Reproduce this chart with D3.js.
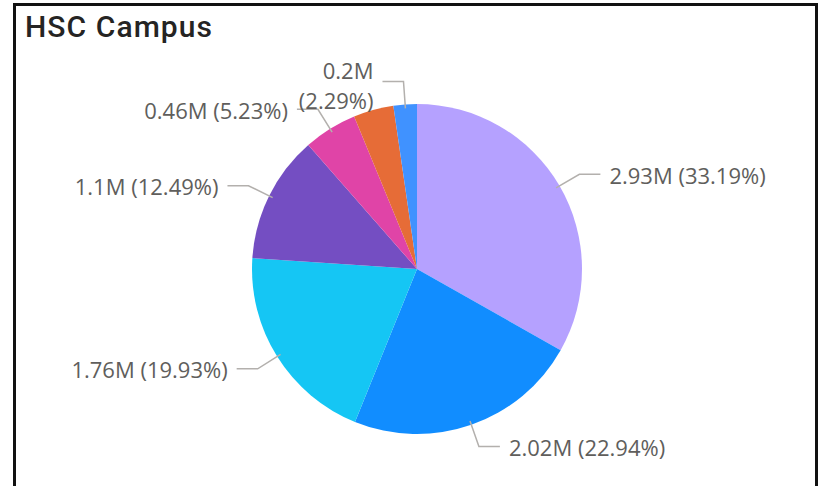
<!DOCTYPE html>
<html>
<head>
<meta charset="utf-8">
<script src="https://cdn.jsdelivr.net/npm/d3@7"></script>
<style>
  body { margin: 0; background: #fff; }
  #title { font-family: Roboto, "DejaVu Sans", sans-serif; font-size: 30px; font-weight: 500; fill: #252423; }
  .label { font-family: "Segoe UI", "Open Sans", sans-serif; font-size: 22px; fill: #605E5C; }
</style>
</head>
<body>
<svg id="pie"></svg>
<script>
const categories = ['Cat A', 'Cat B', 'Cat C', 'Cat D', 'Cat E', 'Cat F', 'Cat G'];
const valuesM = [2.93, 2.02, 1.76, 1.1, 0.46, 0.35, 0.2];
const percents = [33.19, 22.94, 19.93, 12.49, 5.23, 3.93, 2.29];
const valueLabels = ['2.93M', '2.02M', '1.76M', '1.1M', '0.46M', '', '0.2M'];
const colors = ['#B5A1FF', '#118DFF', '#15C6F4', '#744EC2', '#E044A7', '#E66C37', '#4092FF'];

function createPie() {

  const width = 822,
    height = 486,
    cx = 417,
    cy = 269,
    radius = 165;

  const pieData = categories.map((c, i) => ({
    name: c, value: valuesM[i], pct: percents[i], label: valueLabels[i], color: colors[i]
  }));

  const svg = d3.select('#pie')
    .attr('width', width)
    .attr('height', height);

  // frame of the visual
  svg.append('rect').attr('x', 13).attr('y', 3).attr('width', 805).attr('height', 3).attr('fill', '#111');
  svg.append('rect').attr('x', 13).attr('y', 3).attr('width', 3).attr('height', height).attr('fill', '#111');
  svg.append('rect').attr('x', 815).attr('y', 3).attr('width', 3).attr('height', height).attr('fill', '#111');

  svg.append('text')
    .attr('id', 'title')
    .attr('x', 25)
    .attr('y', 37)
    .attr('textLength', 187)
    .text('HSC Campus');

  const g = svg.append('g')
    .attr('transform', `translate(${cx},${cy})`);

  const pie = d3.pie()
    .sort(null)
    .value(d => d.pct);

  const path = d3.arc()
    .outerRadius(radius)
    .innerRadius(0);

  const arcs = pie(pieData);

  g.selectAll('.arc')
    .data(arcs)
    .enter()
    .append('path')
    .attr('class', 'arc')
    .attr('d', path)
    .attr('fill', d => d.data.color);

  // leader lines + labels
  const onArc = d3.arc().innerRadius(radius - 4).outerRadius(radius - 4);
  const elbowArc = d3.arc().innerRadius(188).outerRadius(188);

  const labelled = arcs.filter(d => d.data.label !== '');

  labelled.forEach(d => {
    const a = onArc.centroid(d),
      b = elbowArc.centroid(d),
      mid = (d.startAngle + d.endAngle) / 2,
      side = mid < Math.PI ? 1 : -1,
      c = [b[0] + side * 21, b[1]];

    g.append('polyline')
      .attr('points', [a, b, c].map(p => p.join(',')).join(' '))
      .attr('fill', 'none')
      .attr('stroke', '#B3B0AD')
      .attr('stroke-width', 1.5);

    const text = g.append('text')
      .attr('class', 'label')
      .attr('text-anchor', side > 0 ? 'start' : 'end')
      .attr('x', c[0] + side * 9)
      .attr('y', c[1] + 2)
      .attr('dy', '0.35em');

    const pctText = `(${d.data.pct.toFixed(2)}%)`;
    if (d.data.pct < 3) {
      // narrow slice: Power BI wraps the label over two lines
      text.attr('y', c[1] - 10).text(d.data.label);
      g.append('text')
        .attr('class', 'label')
        .attr('text-anchor', 'end')
        .attr('x', c[0] - 9)
        .attr('y', c[1] + 20)
        .attr('dy', '0.35em')
        .text(pctText);
    } else {
      text.text(`${d.data.label} ${pctText}`);
    }
  });
}

createPie();
</script>
</body>
</html>
